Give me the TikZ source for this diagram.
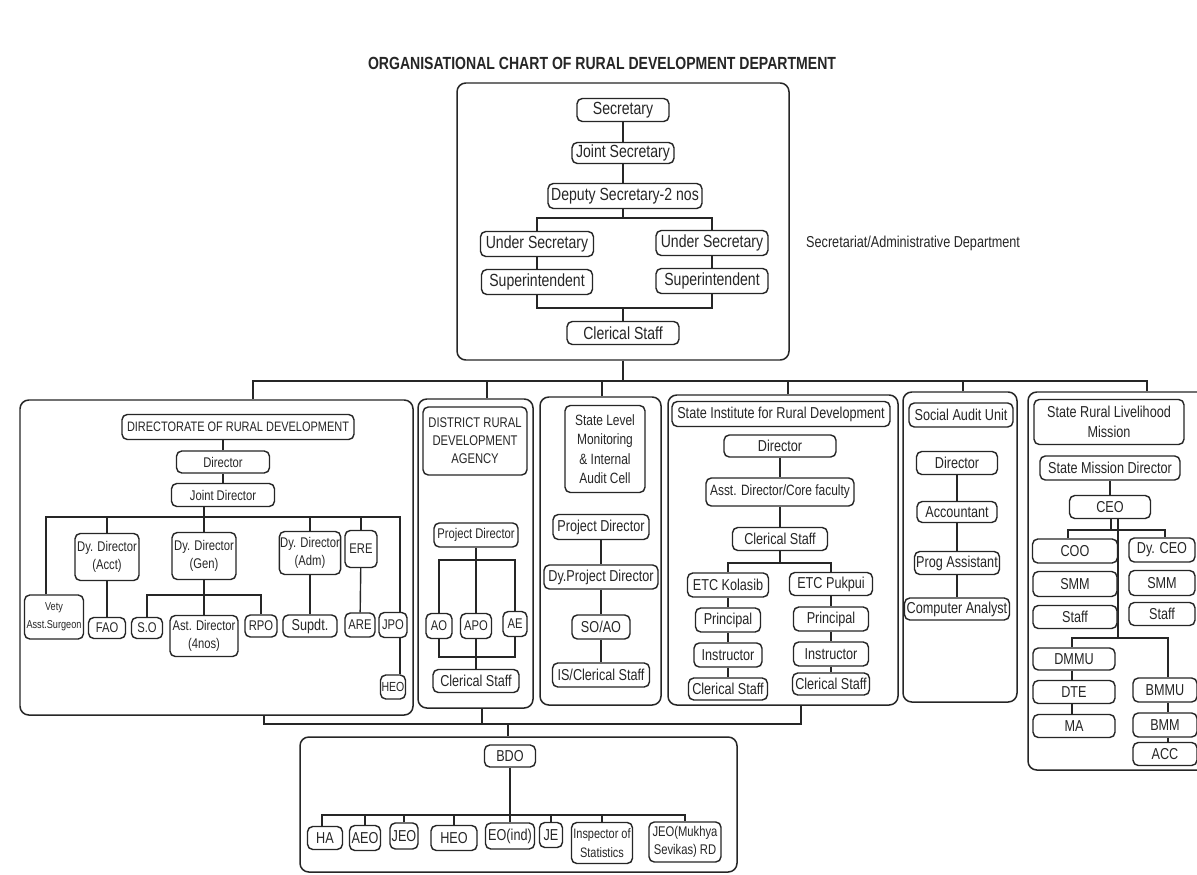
\documentclass[tikz,border=0pt]{standalone}
\usepackage{fontspec}
\setmainfont{Liberation Sans}[FakeStretch=0.8]
\usetikzlibrary{backgrounds}
\definecolor{ink}{HTML}{262626}
\newcommand\pxu{0.02cm}
\newcommand\myfs[2]{\fontsize{#1}{#2}\selectfont}

\begin{document}
\begin{tikzpicture}[x=0.02cm, y=-0.02cm,
  bx/.style={draw=ink, line width=0.8pt, rounded corners=3pt, fill=white,
             inner sep=0.5pt, align=center, text=ink, font=\myfs{9}{10.5}},
  sz/.style 2 args={minimum width=#1*\pxu, minimum height=#2*\pxu},
  grp/.style={draw=ink, line width=0.85pt, rounded corners=5pt, inner sep=0pt},
  ln/.style={draw=ink, line width=0.8pt},
  fX/.style={font=\myfs{10}{12}},
  fE/.style={font=\myfs{8}{10.4}},
  fS/.style={font=\myfs{6.5}{10.4}},
  fM/.style={font=\myfs{8.5}{11}},
]
\useasboundingbox (0,0) rectangle (1197,875);

% title and side note
\node[text=ink, font=\bfseries\myfs{10}{12}] (title) at (602,63)
  {ORGANISATIONAL CHART OF RURAL DEVELOPMENT DEPARTMENT};
\node[text=ink, anchor=west, font=\myfs{9}{11}] (sectxt) at (800,243)
  {Secretariat/Administrative Department};

% group frames
\node[grp, sz={332}{277}] (topbox)  at (623,221.5) {};
\node[grp, sz={393}{315}] (dirbox)  at (216.5,557.5) {};
\node[grp, sz={115}{309}] (drdabox) at (475.5,553.5) {};
\node[grp, sz={121}{308}] (slbox)   at (600.5,551) {};
\node[grp, sz={230}{310}] (sirdbox) at (783,550) {};
\node[grp, sz={114}{310}] (sabox)   at (960,547) {};
\node[grp, sz={200}{378}] (srlmbox) at (1128,581) {};
\node[grp, sz={437}{135}] (bdobox)  at (518.5,804.5) {};

% secretariat
\node[bx, fX, sz={92}{23}]  (sec)  at (623,110) {Secretary};
\node[bx, fX, sz={102}{21}] (jsec) at (623,153) {Joint Secretary};
\node[bx, fX, sz={154}{25}] (dsec) at (625,196) {Deputy Secretary-2 nos};
\node[bx, fX, sz={113}{25}] (usl)  at (537,244) {Under Secretary};
\node[bx, fX, sz={112}{25}] (usr)  at (712,243) {Under Secretary};
\node[bx, fX, sz={111}{25}] (supl) at (537,282) {Superintendent};
\node[bx, fX, sz={112}{25}] (supr) at (712,281) {Superintendent};
\node[bx, fX, sz={112}{23}] (cs)   at (623,333) {Clerical Staff};

% directorate of rural development
\node[bx, font=\myfs{7.8}{10}, sz={232}{25}] (drdlabel) at (238,427) {DIRECTORATE OF RURAL DEVELOPMENT};
\node[bx, fE, sz={93}{22}]  (ddir)  at (223,462) {Director};
\node[bx, fE, sz={103}{23}] (djd)   at (223,495) {Joint Director};
\node[bx, fS, sz={59}{44}]  (vety)  at (54,617)  {Vety\\Asst.Surgeon};
\node[bx, fE, sz={64}{47}]  (acct)  at (107,557) {Dy. Director\\(Acct)};
\node[bx, fE, sz={37}{21}]  (fao)   at (107,628) {FAO};
\node[bx, fE, sz={64}{47}]  (gen)   at (204,556) {Dy. Director\\(Gen)};
\node[bx, fE, sz={31}{21}]  (so)    at (147,628) {S.O};
\node[bx, fE, sz={68}{41}]  (ast)   at (204,636) {Ast. Director\\(4nos)};
\node[bx, fE, sz={32}{22}]  (rpo)   at (261,626) {RPO};
\node[bx, fE, sz={61}{43}]  (adm)   at (310,553) {Dy. Director\\(Adm)};
\node[bx, sz={54}{22}]      (supdt) at (310,626) {Supdt.};
\node[bx, fE, sz={32}{37}]  (ere)   at (361,549) {ERE};
\node[bx, fE, sz={30}{24}]  (are)   at (360,625) {ARE};
\node[bx, fE, sz={28}{25}]  (jpo)   at (393,625) {JPO};
\node[bx, font=\myfs{7.5}{9}, sz={25}{24}] (heoa) at (393,687) {HEO};

% district rural development agency
\node[bx, font=\myfs{8}{10.2}, sz={104}{68}] (drdalbl) at (475,441) {DISTRICT RURAL\\DEVELOPMENT\\AGENCY};
\node[bx, fE, sz={84}{24}] (pda) at (476,535) {Project Director};
\node[bx, fE, sz={26}{25}] (ao)  at (439,626) {AO};
\node[bx, fE, sz={31}{25}] (apo) at (476,626) {APO};
\node[bx, fE, sz={24}{25}] (ae)  at (515,624) {AE};
\node[bx, sz={86}{23}]     (csa) at (476,681) {Clerical Staff};

% state level monitoring cell
\node[bx, fM, sz={80}{87}] (sllbl) at (605,449) {State Level\\Monitoring\\\& Internal\\Audit Cell};
\node[bx, sz={96}{25}]  (pdb)  at (601,527) {Project Director};
\node[bx, sz={114}{24}] (dpd)  at (601,577) {Dy.Project Director};
\node[bx, sz={58}{24}]  (soao) at (601,627) {SO/AO};
\node[bx, sz={97}{24}]  (iscs) at (601,675) {IS/Clerical Staff};

% state institute for rural development
\node[bx, sz={218}{25}] (sirdlbl) at (781,414) {State Institute for Rural Development};
\node[bx, sz={112}{22}] (sdir) at (780,446) {Director};
\node[bx, fM, sz={148}{28}] (sad) at (780,492) {Asst. Director/Core faculty};
\node[bx, sz={95}{23}]  (scs)  at (780,539) {Clerical Staff};
\node[bx, sz={81}{24}]  (etck) at (728,585) {ETC Kolasib};
\node[bx, sz={83}{23}]  (etcp) at (831,584) {ETC Pukpui};
\node[bx, sz={65}{24}]  (prl)  at (728,620) {Principal};
\node[bx, sz={75}{24}]  (prr)  at (831,619) {Principal};
\node[bx, sz={68}{24}]  (inl)  at (728,655) {Instructor};
\node[bx, sz={75}{24}]  (inr)  at (831,654) {Instructor};
\node[bx, sz={79}{22}]  (csl)  at (728,689) {Clerical Staff};
\node[bx, sz={77}{22}]  (csr)  at (831,684) {Clerical Staff};

% social audit unit
\node[bx, sz={104}{24}] (salbl) at (961,415) {Social Audit Unit};
\node[bx, sz={81}{23}]  (sadir) at (957,463) {Director};
\node[bx, sz={80}{21}]  (sacc)  at (957,512) {Accountant};
\node[bx, sz={85}{23}]  (prog)  at (957,563) {Prog Assistant};
\node[bx, sz={105}{22}] (comp)  at (957,609) {Computer Analyst};

% state rural livelihood mission
\node[bx, font=\myfs{9}{11.3}, sz={150}{45}] (srlbl) at (1109,422) {State Rural Livelihood\\Mission};
\node[bx, sz={140}{24}] (smd)    at (1110,468) {State Mission Director};
\node[bx, sz={81}{23}]  (ceo)    at (1110,507) {CEO};
\node[bx, sz={85}{24}]  (coo)    at (1075,551) {COO};
\node[bx, sz={84}{25}]  (smma)   at (1075,584) {SMM};
\node[bx, sz={84}{23}]  (staffa) at (1075,617) {Staff};
\node[bx, sz={66}{24}]  (dyceo)  at (1162,550) {Dy. CEO};
\node[bx, sz={66}{25}]  (smmb)   at (1162,583) {SMM};
\node[bx, sz={66}{23}]  (staffb) at (1162,614) {Staff};
\node[bx, sz={82}{22}]  (dmmu)   at (1074,659) {DMMU};
\node[bx, sz={82}{23}]  (dte)    at (1074,692) {DTE};
\node[bx, sz={82}{23}]  (ma)     at (1074,726) {MA};
\node[bx, sz={64}{24}]  (bmmu)   at (1165,690) {BMMU};
\node[bx, sz={64}{24}]  (bmm)    at (1165,725) {BMM};
\node[bx, sz={64}{23}]  (accb)   at (1165,754) {ACC};

% block development office
\node[bx, sz={51}{22}] (bdo)  at (510,756) {BDO};
\node[bx, sz={35}{23}] (ha)   at (325,838) {HA};
\node[bx, sz={31}{25}] (aeo)  at (365,838) {AEO};
\node[bx, sz={28}{26}] (jeo)  at (404,836) {JEO};
\node[bx, sz={46}{25}] (heob) at (454,838) {HEO};
\node[bx, sz={49}{26}] (eo)   at (510,836) {EO(ind)};
\node[bx, sz={23}{25}] (je)   at (551,835) {JE};
\node[bx, font=\myfs{7.8}{10.4}, sz={61}{41}] (insp) at (602,843) {Inspector of\\Statistics};
\node[bx, font=\myfs{8}{10.4}, sz={72}{40}] (jeom) at (685,842) {JEO(Mukhya\\Sevikas) RD};

\begin{scope}[on background layer]
  \fill[white] (0,0) rectangle (1197,875);

  % secretariat links
  \coordinate (dbr) at (623,218);
  \coordinate (cjn) at (623,308);
  \draw[ln] (sec) -- (jsec);
  \draw[ln] (jsec) -- (dsec.north -| jsec.south);
  \draw[ln] (dsec.south -| dbr) -- (dbr);
  \draw[ln] (usl.north) |- (dbr) -| (usr.north);
  \draw[ln] (usl) -- (supl);
  \draw[ln] (usr) -- (supr);
  \draw[ln] (supl.south) |- (cjn) -| (supr.south);
  \draw[ln] (cjn) -- (cs.north);

  % upper bus to the units
  \coordinate (tb) at (623,381);
  \draw[ln] (topbox.south) -- (topbox.south |- tb);
  \draw[ln] ([xshift=36.5*\pxu]dirbox.north) |- (tb) -| ([xshift=19*\pxu]srlmbox.north);
  \draw[ln] ([xshift=11.5*\pxu]drdabox.north) |- (tb);
  \draw[ln] ([xshift=1.5*\pxu]slbox.north) |- (tb);
  \draw[ln] ([xshift=5*\pxu]sirdbox.north) |- (tb);
  \draw[ln] ([xshift=3*\pxu]sabox.north) |- (tb);

  % lower bus to the block office
  \coordinate (lb) at (508,724);
  \draw[ln] ([xshift=47.5*\pxu]dirbox.south) |- (lb) -| ([xshift=18*\pxu]sirdbox.south);
  \draw[ln] ([xshift=6.5*\pxu]drdabox.south) |- (lb);
  \draw[ln] ([xshift=-10.5*\pxu]bdobox.north) |- (lb);

  % directorate links
  \coordinate (dj) at (204,517);
  \coordinate (gj) at (204,595);
  \draw[ln] (ddir.north) -- (ddir.north |- drdlabel.south);
  \draw[ln] (ddir) -- (djd);
  \draw[ln] (djd.south -| gen.north) -- (gen.north);
  \draw[ln] ([xshift=-8*\pxu]vety.north) |- (dj) -| ([xshift=7*\pxu]jpo.north);
  \draw[ln] (acct.north) |- (dj);
  \draw[ln] (adm.north) |- (dj);
  \draw[ln] (ere.north) |- (dj);
  \draw[ln] (acct) -- (fao);
  \draw[ln] (gen) -- (ast);
  \draw[ln] (so.north) |- (gj) -| (rpo.north);
  \draw[ln] (adm) -- (supdt);
  \draw[ln] (ere) -- (are);
  \draw[ln] ([xshift=7*\pxu]jpo.south) -- ([xshift=7*\pxu]heoa.north);

  % district agency links
  \coordinate (pj) at (476,560);
  \coordinate (qj) at (476,657);
  \draw[ln] (ao.north) |- (pj) -| (ae.north);
  \draw[ln] (pda) -- (apo);
  \draw[ln] (ao.south) |- (qj) -| (ae.south);
  \draw[ln] (apo) -- (csa);

  % monitoring cell links
  \draw[ln] (pdb) -- (dpd) -- (soao) -- (iscs);

  % institute links
  \coordinate (ej) at (780,563);
  \draw[ln] (sdir) -- (sad) -- (scs);
  \draw[ln] (scs.south) -- (ej);
  \draw[ln] (etck.north) |- (ej) -| (etcp.north);
  \draw[ln] (etck) -- (prl) -- (inl) -- (csl);
  \draw[ln] (etcp) -- (prr) -- (inr) -- (csr);

  % social audit links
  \draw[ln] (sadir) -- (sacc) -- (prog) -- (comp);

  % livelihood mission links
  \coordinate (cja) at (1111,530);
  \coordinate (cjb) at (1118,638);
  \draw[ln] (smd) -- (ceo);
  \draw[ln] (ceo.south -| cja) -- (cja);
  \draw[ln] ([xshift=-7*\pxu]coo.north) |- (cja) -| ([xshift=3*\pxu]dyceo.north);
  \draw[ln] (ceo.south -| cjb) -- (cjb);
  \draw[ln] ([xshift=-2*\pxu]dmmu.north) |- (cjb) -| ([xshift=3*\pxu]bmmu.north);
  \draw[ln] ([xshift=-2*\pxu]dmmu.south) -- ([xshift=-2*\pxu]dte.north);
  \draw[ln] ([xshift=-2*\pxu]dte.south) -- ([xshift=-2*\pxu]ma.north);
  \draw[ln] ([xshift=3*\pxu]bmmu.south) -- ([xshift=3*\pxu]bmm.north);
  \draw[ln] ([xshift=3*\pxu]bmm.south) -- ([xshift=3*\pxu]accb.north);

  % block office links
  \coordinate (bj) at (510,815);
  \draw[ln] (bdo) -- (eo);
  \draw[ln] ([xshift=-3*\pxu]ha.north) |- (bj) -| (jeom.north);
  \foreach \n in {aeo,jeo,heob,je,insp} { \draw[ln] (\n.north) |- (bj); }
\end{scope}
\end{tikzpicture}
\end{document}
